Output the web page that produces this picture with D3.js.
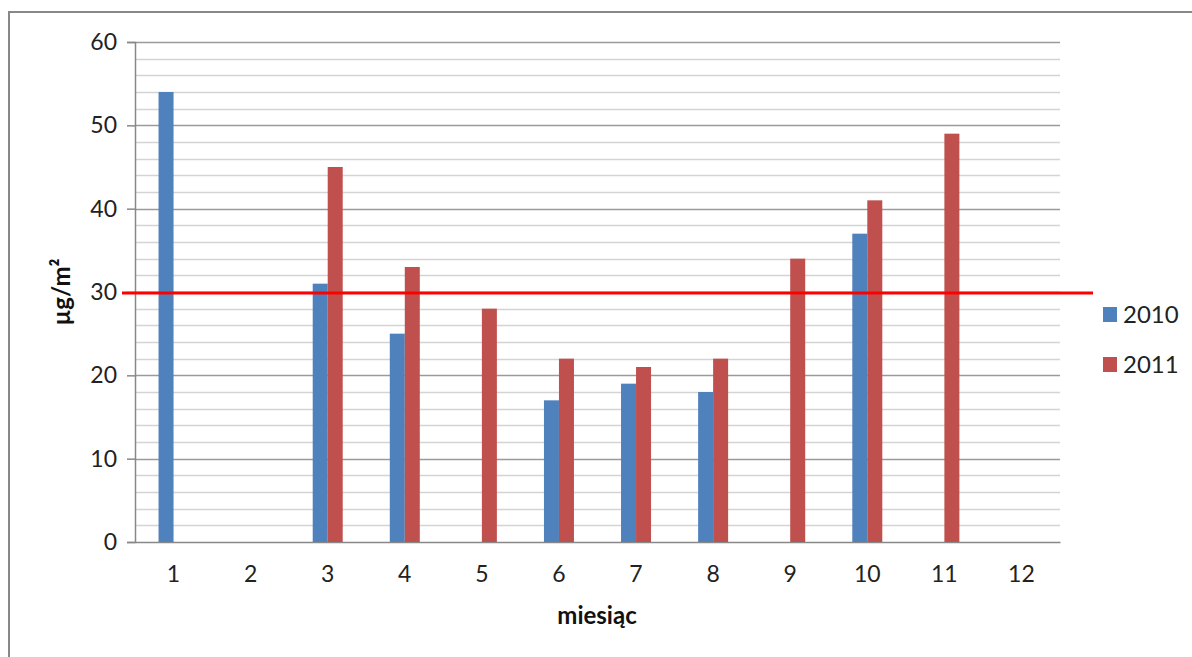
<!DOCTYPE html>
<html>
<head>
<meta charset="utf-8">
<script src="https://cdn.jsdelivr.net/npm/d3@7"></script>
<style>
  html, body { margin: 0; padding: 0; background: #fff; }
  svg { display: block; font-family: Lato, "Open Sans", sans-serif; }
</style>
</head>
<body>
<svg id="chart" width="1192" height="657"></svg>
<script>
// Monthly values (µg/m²); null = no measurement
const months = ["1", "2", "3", "4", "5", "6", "7", "8", "9", "10", "11", "12"];
const values2010 = [54, null, 31, 25, null, 17, 19, 18, null, 37, null, null];
const values2011 = [null, null, 45, 33, 28, 22, 21, 22, 34, 41, 49, null];
const seriesNames = ["2010", "2011"];
const seriesColors = ["#4F81BD", "#C0504D"];
const yTicks = [0, 10, 20, 30, 40, 50, 60];
const limitValue = 30;

const svg = d3.select("#chart");
const margin = { left: 135, top: 42, right: 1060, bottom: 542 };

const x = d3.scaleBand().domain(months).range([margin.left, margin.right]).padding(0);
const y = d3.scaleLinear().domain([0, 60]).range([margin.bottom, margin.top]);
const barW = 15;

// outer frame
svg.append("path")
  .attr("d", `M9,657 L9,12 L1192,12`)
  .attr("fill", "none").attr("stroke", "#888").attr("stroke-width", 2);

// minor gridlines every 2
const minor = d3.range(2, 60, 2).filter(v => v % 10 !== 0);
svg.append("g").selectAll("line").data(minor).join("line")
  .attr("x1", margin.left).attr("x2", margin.right)
  .attr("y1", d => Math.round(y(d)) + 0.5).attr("y2", d => Math.round(y(d)) + 0.5)
  .attr("stroke", "#d4d4d4").attr("stroke-width", 1.5);

// major gridlines
svg.append("g").selectAll("line").data(yTicks.filter(v => v > 0)).join("line")
  .attr("x1", margin.left).attr("x2", margin.right)
  .attr("y1", d => Math.round(y(d)) + 0.5).attr("y2", d => Math.round(y(d)) + 0.5)
  .attr("stroke", "#9a9a9a").attr("stroke-width", 1.5);

// y axis
const yAxis = svg.append("g")
  .attr("transform", `translate(${margin.left},0)`)
  .call(d3.axisLeft(y).tickValues(yTicks).tickSize(8).tickPadding(10));
yAxis.select(".domain").attr("stroke", "#888").attr("stroke-width", 1.5);
yAxis.selectAll(".tick line").attr("stroke", "#888").attr("stroke-width", 1.5);
yAxis.selectAll(".tick text").attr("font-size", 23).attr("fill", "#222")
  .attr("font-family", "Lato, 'Open Sans', sans-serif");

// x axis
const xAxis = svg.append("g")
  .attr("transform", `translate(0,${margin.bottom})`)
  .call(d3.axisBottom(x).tickSize(0).tickPadding(24));
xAxis.select(".domain").attr("stroke", "#888").attr("stroke-width", 1.5);
xAxis.selectAll(".tick text").attr("font-size", 23).attr("fill", "#222")
  .attr("font-family", "Lato, 'Open Sans', sans-serif");

// bars
const series = [values2010, values2011];
series.forEach((vals, si) => {
  const data = months.map((m, i) => ({ m, v: vals[i] })).filter(d => d.v != null);
  svg.append("g").selectAll("rect").data(data).join("rect")
    .attr("x", d => x(d.m) + x.bandwidth() / 2 - barW + si * barW)
    .attr("width", barW)
    .attr("y", d => y(d.v))
    .attr("height", d => y(0) - y(d.v))
    .attr("fill", seriesColors[si]);
});

// limit line
svg.append("line")
  .attr("x1", 122).attr("x2", 1093)
  .attr("y1", y(limitValue) + 1).attr("y2", y(limitValue) + 1)
  .attr("stroke", "#FF0000").attr("stroke-width", 3);

// axis titles
svg.append("text")
  .attr("x", 597).attr("y", 624)
  .attr("text-anchor", "middle").attr("font-weight", "bold").attr("font-size", 24)
  .attr("fill", "#111").text("miesiąc");

svg.append("text")
  .attr("transform", `translate(70,292) rotate(-90)`)
  .attr("text-anchor", "middle").attr("font-weight", "bold").attr("font-size", 24)
  .attr("fill", "#111").text("µg/m²");

// legend
const legend = svg.append("g");
seriesNames.forEach((name, i) => {
  const ly = 307 + i * 50;
  legend.append("rect").attr("x", 1103).attr("y", ly).attr("width", 14).attr("height", 15)
    .attr("fill", seriesColors[i]);
  legend.append("text").attr("x", 1123).attr("y", ly + 16)
    .attr("font-size", 24).attr("fill", "#222").text(name);
});
</script>
</body>
</html>
